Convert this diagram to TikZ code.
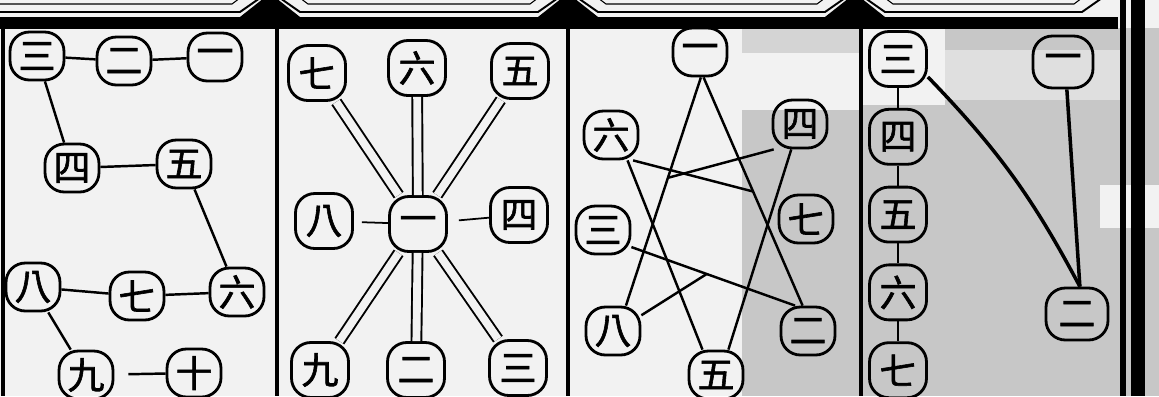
\documentclass[tikz,border=0pt]{standalone}
\usepackage{fontspec}
\newfontfamily\cjk[FakeBold=1.6]{Noto Sans CJK TC}
\usetikzlibrary{positioning,calc}
\definecolor{paper}{gray}{0.95}
\definecolor{scangrey}{gray}{0.78}

\begin{document}
\begin{tikzpicture}[x=0.02cm, y=-0.02cm,
    num/.style={draw, line width=1.6pt, rounded corners=11pt, minimum width=1.08cm,
                minimum height=0.96cm, inner sep=0pt,
                font=\cjk\fontsize{21}{21}\selectfont},
    big/.style={num, minimum width=1.14cm, minimum height=1.1cm},
    link/.style={line width=1.4pt},
    thin link/.style={line width=1pt},
    band/.style={line width=1.1pt, double=paper, double distance=4.5pt},
    heavy/.style={line width=2pt}
]
    \useasboundingbox (0,0) rectangle (1159,396);
    \clip (0,0) rectangle (1159,396);

    % paper and scan shading
    \fill[paper] (0,0) rectangle (1159,396);
    \fill[scangrey] (742,110) rectangle (862,396);
    \fill[scangrey!70!paper] (742,28) rectangle (862,53);
    \fill[scangrey] (862,28) rectangle (1159,396);
    \fill[paper] (862,28) rectangle (945,105);
    \fill[scangrey!45!paper] (945,50) rectangle (1120,100);
    \fill[paper] (1100,185) rectangle (1159,228);

    % header strip and cartouches
    \fill (0,17) rectangle (1118,29);
    \foreach \a/\b in {-40/270, 270/568, 568/855, 855/1112} {
        \draw[line width=1.1pt] (\a+10,-2) -- (\a+30,12) -- (\b-30,12) -- (\b-10,-2);
        \draw[line width=0.6pt] (\a+30,-2) -- (\a+38,4) -- (\b-38,4) -- (\b-30,-2);
    }
    \foreach \d in {270, 568, 855}
        \fill (\d-30,17) -- (\d-6,-2) -- (\d+6,-2) -- (\d+30,17) -- cycle;

    % panel rules
    \draw[line width=2.4pt] (3,17) -- (3,396);
    \draw[line width=1.8pt] (277,17) -- (277,396);
    \draw[line width=1.8pt] (568,17) -- (568,396);
    \draw[line width=2.8pt] (861,17) -- (861,396);
    \draw[line width=3.4pt] (1123,0) -- (1123,396);
    \draw[line width=7.5pt] (1138,0) -- (1138,396);

    % Panel 1: chain one to ten
    \node[num] (a3) at (37,56) {三};
    \node[num] (a2) at (124,61) {二};
    \node[num] (a1) at (215,57) {一};
    \node[num] (a4) at (72,168) {四};
    \node[num] (a5) at (184,164) {五};
    \node[num] (a8) at (33,287) {八};
    \node[num] (a7) at (137,296) {七};
    \node[num] (a6) at (237,292) {六};
    \node[num] (a9) at (86,375) {九};
    \node[num] (a10) at (194,373) {十};

    \draw[link] (a3) -- (a2);
    \draw[link] (a2) -- (a1);
    \draw[link] (a3) -- (a4);
    \draw[link] (a4) -- (a5);
    \draw[link] (a5) -- (a6);
    \draw[link] (a6) -- (a7);
    \draw[link] (a7) -- (a8);
    \draw[link] (a8) -- (a9);
    \draw[link, shorten <=0.28cm] (a9) -- (a10);

    % Panel 2: star round the centre
    \node[big] (b1) at (418,224) {一};
    \node[big] (b7) at (317,73) {七};
    \node[big] (b6) at (417,68) {六};
    \node[big] (b5) at (520,71) {五};
    \node[big] (b8) at (324,221) {八};
    \node[big] (b4) at (519,215) {四};
    \node[big] (b9) at (320,370) {九};
    \node[big] (b2) at (416,370) {二};
    \node[big] (b3) at (518,368) {三};

    \foreach \n in {b7,b6,b5,b9,b2,b3}
        \draw[band] (b1) -- (\n);
    \draw[thin link, shorten >=0.16cm] (b1) -- (b8);
    \draw[thin link, shorten <=0.22cm] (b1) -- (b4);

    % Panel 3: crossing lines
    \node[num] (t1) at (700,52) {一};
    \node[num] (t4) at (800,124) {四};
    \node[num] (t6) at (611,135) {六};
    \node[num] (t7) at (806,219) {七};
    \node[num] (t3) at (603,230) {三};
    \node[num] (t8) at (613,331) {八};
    \node[num] (t2) at (808,331) {二};
    \node[num] (t5) at (716,375) {五};

    \draw[link] (t1.-88) -- (t8.63);
    \draw[link] (t1.-82) -- (t2.102);
    \draw[link] (t6.-57) -- (t5.118);
    \draw[link] (t4.-109) -- (t5.64);
    \draw[link] (t3.-31) -- (t2.117);
    \draw[link] (t4.-136) -- ($(t1.-88)!0.44!(t8.63)$);
    \draw[link] (t6.-49) -- ($(t1.-82)!0.5!(t2.102)$);
    \draw[link] (t8.29) -- ($(t3.-31)!0.46!(t2.117)$);

    % Panel 4: column and fork
    \node[big] (d3) at (898,59) {三};
    \node[big, below=0.4cm of d3] (d4) {四};
    \node[big, below=0.4cm of d4] (d5) {五};
    \node[big, below=0.4cm of d5] (d6) {六};
    \node[big, below=0.4cm of d6] (d7) {七};
    \node[big, minimum width=1.2cm, minimum height=1.04cm] (d1) at (1063,62) {一};
    \node[big, minimum width=1.24cm, minimum height=1.04cm] (d2) at (1077,314) {二};

    \draw[link] (d3) -- (d4);
    \draw[link] (d4) -- (d5);
    \draw[link] (d5) -- (d6);
    \draw[link] (d6) -- (d7);
    \draw[heavy] (d3.-31) to[bend left=8] (d2.84);
    \draw[heavy] (d1.-82) -- (d2.84);
\end{tikzpicture}
\end{document}
